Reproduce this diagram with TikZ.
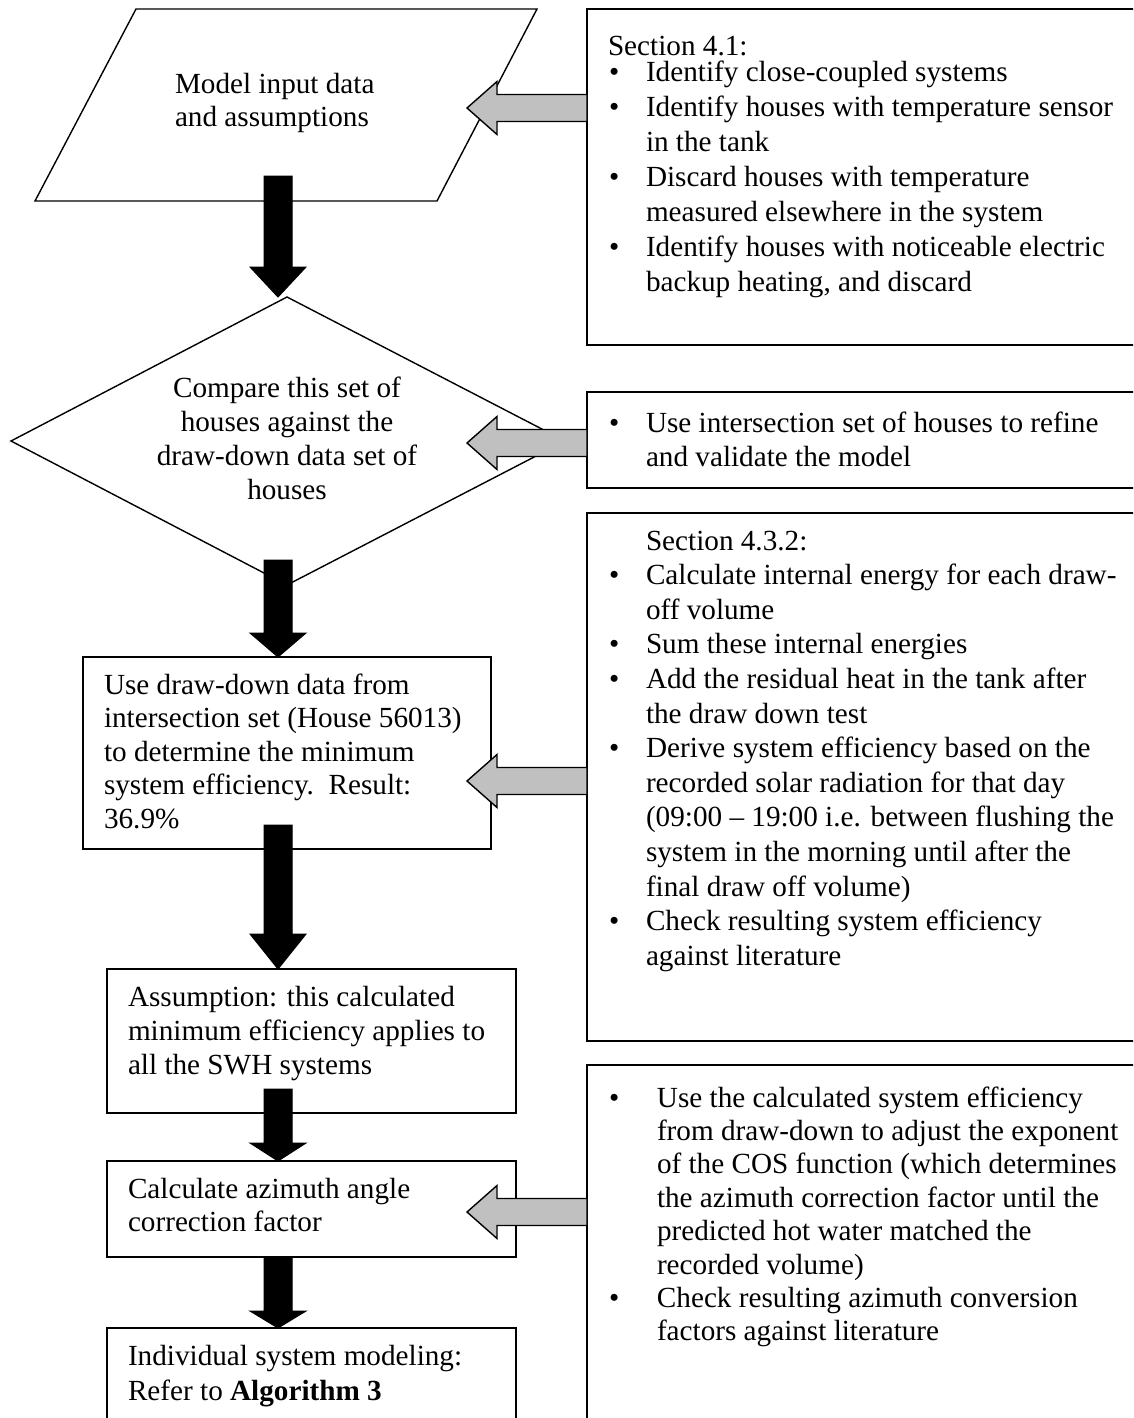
\documentclass[tikz,border=0pt]{standalone}
\usepackage{fontspec}
\setmainfont{Liberation Serif}
\usetikzlibrary{calc}
\definecolor{arrgray}{RGB}{192,192,192}
\newcommand\mybul[2]{\par\noindent\hangindent=#1\hangafter=1\makebox[#1][l]{\textbullet}\ignorespaces#2\par}
\newcommand\mytxt[3]{\parbox[t]{#1}{\fontsize{29.2pt}{#2}\selectfont\parindent=0pt\parskip=0pt #3}}
\tikzset{
  flow/.style={draw=black, line width=1.4pt, fill=white, line join=miter},
  boxline/.style={draw=black, line width=2pt, fill=white, inner sep=0pt, outer sep=0pt, anchor=north west},
  txtnode/.style={inner sep=0pt, outer sep=0pt, anchor=base west},
  blk/.style={fill=black, draw=black, line width=1pt},
  gry/.style={fill=arrgray, draw=black, line width=1.4pt, line join=miter},
}
\newcommand\blockdown[3]{%
  \path[blk] let \p1=#1, \p2=#2 in
    (\x1-14pt,\y1) -- (\x1+14pt,\y1) -- (\x1+14pt,\y2+#3pt) -- (\x1+28pt,\y2+#3pt)
    -- (\x1,\y2) -- (\x1-28pt,\y2+#3pt) -- (\x1-14pt,\y2+#3pt) -- cycle;}
\newcommand\blockleft[2]{%
  \path[gry] let \p1=#1, \p2=#2 in
    (\x1,\y2+13.5pt) -- (\x2+30pt,\y2+13.5pt) -- (\x2+30pt,\y2+26.5pt) -- (\x2,\y2)
    -- (\x2+30pt,\y2-26.5pt) -- (\x2+30pt,\y2-13.5pt) -- (\x1,\y2-13.5pt) -- cycle;}
\begin{document}
\begin{tikzpicture}[x=1pt,y=-1pt]
\useasboundingbox (0,0) rectangle (1133,1418);
\clip (0,0) rectangle (1133,1418);

% ---------- left column shapes ----------
\coordinate (p1) at (136,9);
\coordinate (p2) at (537,9);
\coordinate (p3) at (437,201);
\coordinate (p4) at (35,201);
\draw[flow] (p1) -- (p2) -- (p3) -- (p4) -- cycle;

\coordinate (dt) at (287,297);
\coordinate (dr) at (565,441);
\coordinate (db) at (287,585);
\coordinate (dl) at (11,441);
\draw[flow] (dt) -- (dr) -- (db) -- (dl) -- cycle;

\node[boxline, minimum width=408pt, minimum height=192pt] (l3) at (83,657) {};
\node[boxline, minimum width=409pt, minimum height=144pt] (l4) at (107,969) {};
\node[boxline, minimum width=409pt, minimum height=96pt]  (l5) at (107,1161) {};
\node[boxline, minimum width=409pt, minimum height=150pt] (l6) at (107,1328) {};

% ---------- right column boxes ----------
\node[boxline, minimum width=560pt, minimum height=336pt] (r1) at (587,9) {};
\node[boxline, minimum width=560pt, minimum height=96pt]  (r2) at (587,392) {};
\node[boxline, minimum width=560pt, minimum height=528pt] (r3) at (587,513) {};
\node[boxline, minimum width=560pt, minimum height=400pt] (r4) at (587,1065) {};

% ---------- texts ----------
\node[txtnode] (ptext) at (175,94) {\mytxt{320pt}{33pt}{Model input data\\and assumptions}};
\node[inner sep=0pt, outer sep=0pt, anchor=base] (dtext) at (287,397)
  {\mytxt{340pt}{34pt}{\centering Compare this set of\\houses against the\\draw-down data set of\\houses}};
\node[txtnode] (l3t) at (104,694) {\mytxt{400pt}{33.5pt}{Use draw-down data from\\intersection set (House 56013)\\to determine the minimum\\system efficiency.~~Result:\\36.9\%}};
\node[txtnode] (l4t) at (128,1006) {\mytxt{400pt}{34pt}{Assumption: this calculated\\minimum efficiency applies to\\all the SWH systems}};
\node[txtnode] (l5t) at (128,1198) {\mytxt{400pt}{33pt}{Calculate azimuth angle\\correction factor}};
\node[txtnode] (l6t) at (128,1365) {\mytxt{400pt}{35pt}{Individual system modeling:\\Refer to \textbf{Algorithm 3}}};

\node[txtnode] (r1h) at (608,56) {\mytxt{500pt}{35pt}{Section 4.1:}};
\node[txtnode] (r1t) at (609,82) {\mytxt{560pt}{35pt}{%
  \mybul{37pt}{Identify close-coupled systems}%
  \mybul{37pt}{Identify houses with temperature sensor\\in the tank}%
  \mybul{37pt}{Discard houses with temperature\\measured elsewhere in the system}%
  \mybul{37pt}{Identify houses with noticeable electric\\backup heating, and discard}}};
\node[txtnode] (r2t) at (609,432) {\mytxt{560pt}{34pt}{%
  \mybul{37pt}{Use intersection set of houses to refine\\and validate the model}}};
\node[txtnode] (r3t) at (609,550) {\mytxt{560pt}{34.6pt}{%
  \hspace*{37pt}Section 4.3.2:\par
  \mybul{37pt}{Calculate internal energy for each draw-\\off volume}%
  \mybul{37pt}{Sum these internal energies}%
  \mybul{37pt}{Add the residual heat in the tank after\\the draw down test}%
  \mybul{37pt}{Derive system efficiency based on the\\recorded solar radiation for that day\\(09:00 – 19:00 i.e. between flushing the\\system in the morning until after the\\final draw off volume)}%
  \mybul{37pt}{Check resulting system efficiency\\against literature}}};
\node[txtnode] (r4t) at (609,1107) {\mytxt{560pt}{33.4pt}{%
  \mybul{48pt}{Use the calculated system efficiency\\from draw-down to adjust the exponent\\of the COS function (which determines\\the azimuth correction factor until the\\predicted hot water matched the\\recorded volume)}%
  \mybul{48pt}{Check resulting azimuth conversion\\factors against literature}}};

% ---------- black block arrows (main flow) ----------
\coordinate (a1s) at (278,176);
\coordinate (a2s) at (278,560);
\coordinate (a3s) at (278,825);
\coordinate (a4s) at (278,1089);
\coordinate (a5s) at (278,1257);
\blockdown{(a1s)}{(dt)}{30}
\blockdown{(a2s)}{(l3.north)}{24}
\blockdown{(a3s)}{(l4.north)}{35}
\blockdown{(a4s)}{(l5.north)}{18}
\blockdown{(a5s)}{(l6.north)}{17}

% ---------- grey block arrows (inputs) ----------
\coordinate (g1) at (467,108);
\coordinate (g2) at (467,443);
\coordinate (g3) at (467,781);
\coordinate (g4) at (467,1212);
\blockleft{(r1.west)}{(g1)}
\blockleft{(r2.west)}{(g2)}
\blockleft{(r3.west)}{(g3)}
\blockleft{(r4.west)}{(g4)}
\end{tikzpicture}
\end{document}
